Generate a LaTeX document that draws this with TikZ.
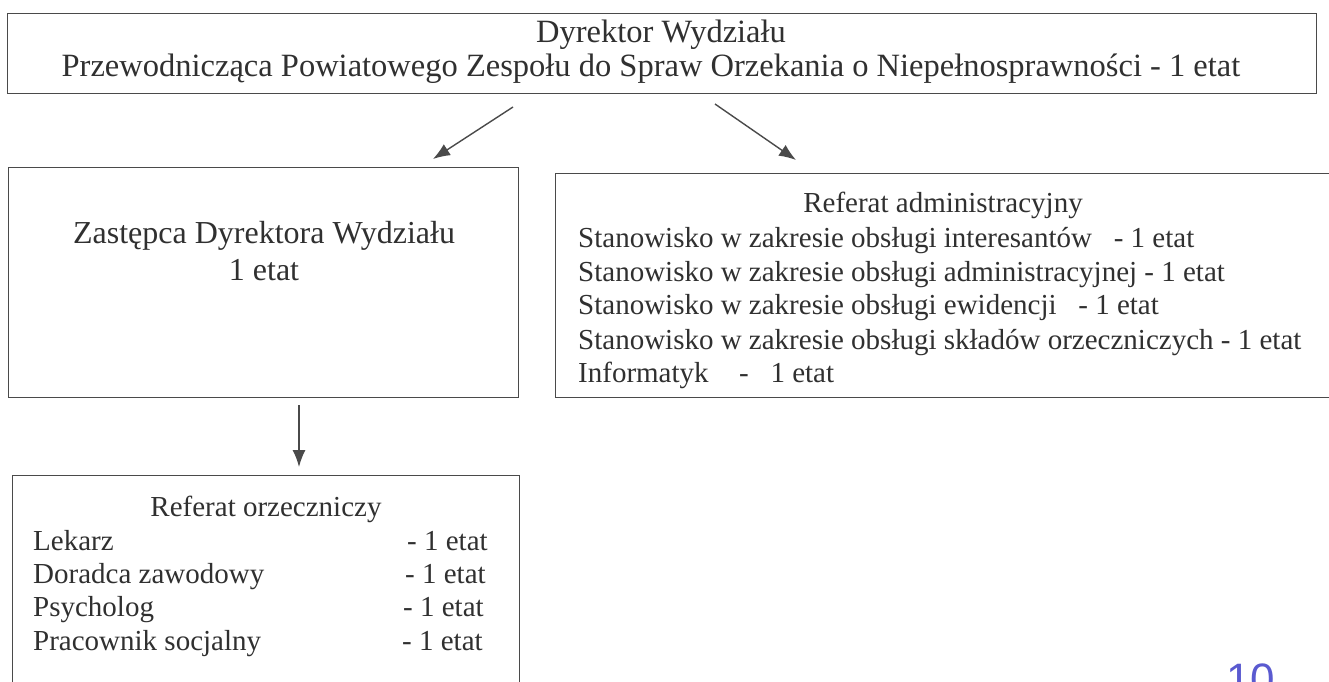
\documentclass[tikz,border=0pt]{standalone}
\usepackage{fontspec}
\setmainfont{Liberation Serif}
\newfontfamily\handfont{Liberation Sans}
\usetikzlibrary{arrows.meta}
\definecolor{txt}{HTML}{303030}
\definecolor{linec}{HTML}{4A4A4A}
\definecolor{penblue}{HTML}{5A5AD0}
\begin{document}
\begin{tikzpicture}[x=1pt,y=-1pt,
  box/.style={draw=linec, line width=1.4pt, inner sep=0pt, anchor=north west},
  big/.style={font=\fontsize{32}{34}\selectfont, text=txt, inner sep=0pt, anchor=base},
  bigger/.style={font=\fontsize{32.5}{34}\selectfont, text=txt, inner sep=0pt, anchor=base},
  small/.style={font=\fontsize{29}{34}\selectfont, text=txt, inner sep=0pt, anchor=base},
  line/.style={small, anchor=base west},
  arr/.style={draw=linec, line width=1.4pt, -{Latex[length=17pt,width=13pt]}}]
\useasboundingbox (0,0) rectangle (1329,681);
\fill[white] (0,0) rectangle (1329,681);

% boxes
\node[box, minimum width=1309pt, minimum height=80pt] (top) at (7,13) {};
\node[box, minimum width=510pt, minimum height=230pt] (zast) at (8,167) {};
\node[box, minimum width=780pt, minimum height=224pt] (adm) at (555,173) {};
\node[box, minimum width=507pt, minimum height=240pt] (orz) at (12,475) {};

% top box text
\node[bigger] (t1) at (661,42) {Dyrektor Wydziału};
\node[bigger] (t2) at (651,76) {Przewodnicząca Powiatowego Zespołu do Spraw Orzekania o Niepełnosprawności - 1 etat};

% left box text
\node[big] (z1) at (264,243) {Zastępca Dyrektora Wydziału};
\node[big] (z2) at (264,280) {1 etat};

% right box text
\node[small] (a0) at (943,212) {Referat administracyjny};
\node[line] (a1) at (578,247) {Stanowisko w zakresie obsługi interesantów\hspace{0.5em} - 1 etat};
\node[line] (a2) at (578,281) {Stanowisko w zakresie obsługi administracyjnej - 1 etat};
\node[line] (a3) at (578,314) {Stanowisko w zakresie obsługi ewidencji\hspace{0.5em} - 1 etat};
\node[line] (a4) at (578,349) {Stanowisko w zakresie obsługi składów orzeczniczych - 1 etat};
\node[line] (a5) at (578,382) {Informatyk\hspace{0.8em} -\hspace{0.5em} 1 etat};

% bottom box text
\node[small] (o0) at (266,516) {Referat orzeczniczy};
\node[line] (o1) at (33,550) {Lekarz};
\node[line] (o2) at (33,583) {Doradca zawodowy};
\node[line] (o3) at (33,616) {Psycholog};
\node[line] (o4) at (33,650) {Pracownik socjalny};
\node[line] (e1) at (407,550) {- 1 etat};
\node[line] (e2) at (405,583) {- 1 etat};
\node[line] (e3) at (403,616) {- 1 etat};
\node[line] (e4) at (402,650) {- 1 etat};

% page number (handwritten, cut off at the lower edge as in the scan)
\node[text=penblue, font=\handfont\fontsize{44}{44}\selectfont, inner sep=0pt, anchor=north west] (pg) at (1226,664) {10};

% connectors
\coordinate (s1) at (513,107);
\coordinate (e1c) at (433,159);
\coordinate (s2) at (715,104);
\coordinate (e2c) at (796,160);
\coordinate (s3) at (299,405);
\coordinate (e3c) at (299,467);
\draw[arr] (s1) -- (e1c);
\draw[arr] (s2) -- (e2c);
\draw[arr] (s3) -- (e3c);
\end{tikzpicture}
\end{document}
